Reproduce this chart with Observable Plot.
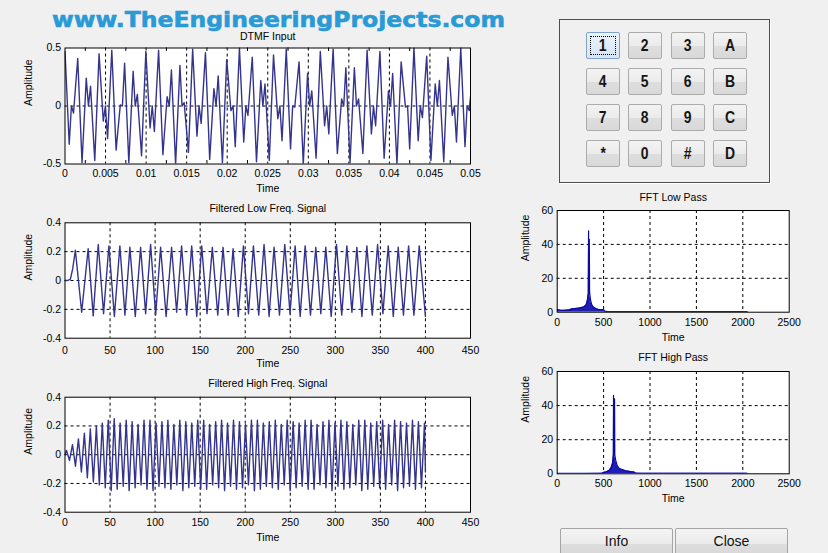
<!DOCTYPE html>
<html>
<head>
<meta charset="utf-8">
<script src="https://cdn.jsdelivr.net/npm/d3@7"></script>
<script src="https://cdn.jsdelivr.net/npm/@observablehq/plot@0.6"></script>
<style>
  html, body { margin: 0; padding: 0; background: #f0f0f0; }
  #fig { position: relative; width: 828px; height: 553px; overflow: hidden; background: #f0f0f0;
         font-family: "Liberation Sans", Arial, sans-serif; }
  .chart { position: absolute; }
  .chart svg { display: block; max-width: none; }
  #wm { position: absolute; left: 0; top: 0; }
  #pad { position: absolute; left: 559px; top: 19px; width: 209px; height: 162px;
         border: 1px solid #4e4e4e; box-shadow: 1px 1px 0 #ffffff; }
  .key { position: absolute; box-sizing: border-box; width: 34px; height: 27px;
         border: 1px solid #acacac; border-radius: 2px;
         background: linear-gradient(#f3f3f3 0%, #ebebeb 50%, #dedede 51%, #d9d9d9 100%);
         display: flex; align-items: center; justify-content: center;
         font: bold 17px "Liberation Sans Narrow", "Liberation Sans", Arial, sans-serif; color: #151515; }
  .key span { display: inline-block; transform: scaleX(0.82); }
  .key.focus { border-color: #7da2ce; background: linear-gradient(#eaf3fb, #d6e6f4); }
  .key.focus::after { content: ""; position: absolute; left: 3px; top: 3px; right: 3px; bottom: 3px;
         border: 1px dotted #000; }
  .btn { position: absolute; box-sizing: border-box; top: 528px; width: 113px; height: 32px;
         border: 1px solid #a5a5a5; border-radius: 2px;
         background: linear-gradient(#f3f3f3 0%, #ebebeb 50%, #dddddd 51%, #d6d6d6 100%);
         font: 14px "Liberation Sans", Arial, sans-serif; color: #111; text-align: center;
         line-height: 16px; padding-top: 4px; }
</style>
</head>
<body>
<div id="fig"></div>
<script>
// ---------------- data ----------------
// DTMF input (key "1"): extrema / null points of the waveform, time in s
const dtmfT = [0,0.00052,0.00079,0.00105,0.00157,0.00210,0.00262,0.00289,0.00315,0.00367,
  0.00420,0.00472,0.00498,0.00525,0.00577,0.00630,0.00682,0.00708,0.00735,0.00787,
  0.00840,0.00866,0.00892,0.00944,0.00997,0.01049,0.01076,0.01102,0.01154,0.01207,
  0.01259,0.01286,0.01312,0.01364,0.01417,0.01443,0.01469,0.01522,0.01574,0.01627,
  0.01653,0.01679,0.01732,0.01784,0.01836,0.01863,0.01889,0.01941,0.01994,0.02046,
  0.02073,0.02099,0.02151,0.02204,0.02230,0.02256,0.02309,0.02361,0.02414,0.02440,
  0.02466,0.02519,0.02571,0.02624,0.02650,0.02676,0.02728,0.02781,0.02807,0.02833,
  0.02886,0.02938,0.02991,0.03017,0.03043,0.03096,0.03148,0.03201,0.03227,0.03253,
  0.03306,0.03358,0.03411,0.03437,0.03463,0.03515,0.03568,0.03594,0.03620,0.03673,
  0.03725,0.03778,0.03804,0.03830,0.03883,0.03935,0.03988,0.04014,0.04040,0.04093,
  0.04145,0.04198,0.04224,0.04250,0.04303,0.04355,0.04381,0.04407,0.04460,0.04512,
  0.04565,0.04591,0.04617,0.04670,0.04722,0.04775,0.04801,0.04827,0.04880,0.04932,
  0.04958,0.04985,0.05000];
const dtmfV = [0.47,-0.33,0,-0.06,0.41,-0.49,0.24,0,0.17,-0.47,
  0.45,-0.13,0,-0.28,0.48,-0.38,0.01,0,0.37,-0.49,
  0.30,0,0.10,-0.43,0.47,-0.19,0,-0.22,0.48,-0.42,
  0.08,0,0.31,-0.50,0.35,0,0.03,-0.40,0.49,-0.26,
  0,-0.15,0.46,-0.46,0.15,0,0.26,-0.49,0.40,-0.04,
  0,-0.35,0.50,-0.31,0,-0.08,0.42,-0.48,0.22,0,
  0.19,-0.47,0.44,-0.11,0,-0.30,0.49,-0.37,0,-0.01,
  0.38,-0.50,0.28,0,0.13,-0.45,0.47,-0.17,0,-0.24,
  0.49,-0.41,0.06,0,0.33,-0.49,0.33,0,0.06,-0.41,
  0.48,-0.24,0,-0.17,0.47,-0.45,0.13,0,0.28,-0.50,
  0.38,-0.01,0,-0.37,0.50,-0.30,0,-0.10,0.43,-0.47,
  0.19,0,0.22,-0.48,0.42,-0.08,0,-0.31,0.50,-0.35,
  0,-0.04,0.08];

// Filtered low-frequency signal (samples)
const lowStartT = [0, 3, 6, 8.5];
const lowStartV = [0, 0, 0.01, 0.08];
const lowPeakT = [11.5,25.7,36.9,48.7,60.9,72.0,83.9,95.0,106.1,118.3,129.4,140.6,151.7,163.5,175.4,186.5,198.0,
  209.1,220.9,232.0,243.9,255.4,266.5,278.3,289.4,301.3,312.8,323.9,335.0,346.9,358.7,369.8,381.3,393.1];
const lowPeakV = [0.21,0.22,0.25,0.24,0.24,0.23,0.23,0.25,0.23,0.23,0.24,0.24,0.24,0.23,0.23,0.22,0.24,
  0.24,0.25,0.23,0.25,0.24,0.24,0.23,0.23,0.25,0.24,0.23,0.24,0.25,0.24,0.23,0.24,0.24];
const lowTroughT = [18.5,31.3,42.8,54.8,66.5,78.0,89.5,100.6,112.2,123.9,135.0,146.2,157.6,169.5,181.0,192.3,203.6,
  215.0,226.5,238.0,249.7,261.0,272.4,283.9,295.4,307.1,318.4,329.5,341.0,352.8,364.3,375.6,387.2,400];
const lowTroughV = [-0.22,-0.245,-0.23,-0.25,-0.24,-0.25,-0.23,-0.24,-0.25,-0.22,-0.24,-0.25,-0.23,-0.24,-0.24,-0.25,-0.23,
  -0.24,-0.25,-0.24,-0.23,-0.25,-0.24,-0.23,-0.25,-0.24,-0.22,-0.25,-0.24,-0.23,-0.25,-0.24,-0.24,-0.25];

// Filtered high-frequency signal (samples)
const hiEndsT = [0, 400];
const hiEndsV = [0, -0.12];
const hiPeakT = [1.7,8.3,14.9,21.5,28.1,34.8,41.4,48.0,54.6,61.2,67.9,74.5,81.1,87.7,94.3,101.0,107.6,114.2,120.8,127.4,
  134.1,140.7,147.3,153.9,160.5,167.2,173.8,180.4,187.0,193.6,200.3,206.9,213.5,220.1,226.7,233.4,240.0,246.6,253.2,
  259.8,266.5,273.1,279.7,286.3,292.9,299.6,306.2,312.8,319.4,326.0,332.7,339.3,345.9,352.5,359.1,365.8,372.4,379.0,
  385.6,392.2,398.9];
const hiPeakV = [0.03,0.07,0.11,0.15,0.18,0.20,0.22,0.24,0.25,0.22,0.24,
  0.23,0.21,0.24,0.24,0.22,0.23,0.24,0.21,0.24,0.23,0.22,
  0.24,0.24,0.21,0.23,0.24,0.22,0.24,0.23,0.21,0.24,0.24,
  0.22,0.23,0.24,0.21,0.24,0.23,0.22,0.24,0.24,0.21,0.23,
  0.24,0.22,0.24,0.23,0.21,0.24,0.24,0.22,0.23,0.24,0.21,
  0.24,0.23,0.22,0.24,0.23,0.22];
const hiTroughT = [5.0,11.6,18.2,24.8,31.5,38.1,44.7,51.3,57.9,64.6,71.2,77.8,84.4,91.0,97.7,104.3,110.9,117.5,124.1,130.8,
  137.4,144.0,150.6,157.2,163.9,170.5,177.1,183.7,190.3,197.0,203.6,210.2,216.8,223.4,230.1,236.7,243.3,249.9,256.5,263.2,
  269.8,276.4,283.0,289.6,296.3,302.9,309.5,316.1,322.7,329.4,336.0,342.6,349.2,355.8,362.5,369.1,375.7,382.3,388.9,395.6];
const hiTroughV = [-0.04,-0.08,-0.12,-0.16,-0.19,-0.21,-0.23,-0.25,-0.24,-0.22,
  -0.25,-0.23,-0.21,-0.24,-0.25,-0.22,-0.23,-0.24,-0.21,-0.25,
  -0.23,-0.22,-0.24,-0.24,-0.21,-0.23,-0.25,-0.22,-0.24,-0.23,
  -0.21,-0.25,-0.24,-0.22,-0.23,-0.24,-0.21,-0.25,-0.23,-0.22,
  -0.24,-0.24,-0.21,-0.23,-0.25,-0.22,-0.24,-0.23,-0.21,-0.25,
  -0.24,-0.22,-0.23,-0.24,-0.21,-0.25,-0.23,-0.22,-0.24,-0.23];

// FFT magnitude envelopes (bin index)
const fftLowBin = [0,30,80,130,160,200,250,290,310,322,330,335,338,340,343,346,349,353,360,372,390,420,460,500,510,540,700,1000,1500,2000,2048];
const fftLowMag = [1.5,1.2,1.1,1.4,2.0,2.2,2.6,3.2,4.2,6,9,11,48,13,11,43,12,10,7,4.5,3,2,1.4,1.6,0.6,0.45,0.4,0.35,0.35,0.35,0.3];
const fftHighBin = [0,300,480,500,530,560,580,595,603,605,607,610,615,618,621,630,645,670,700,740,790,830,845,900,1500,2048];
const fftHighMag = [0.2,0.2,0.3,0.8,1.2,2.0,3.5,6,10,11,46,12,11,44,11,8,5,3,2.5,1.8,1.3,1.0,0.4,0.3,0.3,0.3];

// ticks
const dtmfXTicks = [0,0.005,0.01,0.015,0.02,0.025,0.03,0.035,0.04,0.045,0.05];
const dtmfMinor = [0.0025,0.0075,0.0125,0.0175,0.0225,0.0275,0.0325,0.0375,0.0425,0.0475];
const dtmfYTicks = [-0.5,0,0.5];
const sigXTicks = [0,50,100,150,200,250,300,350,400,450];
const sigYTicks = [-0.4,-0.2,0,0.2,0.4];
const fftXTicks = [0,500,1000,1500,2000,2500];
const fftYTicks = [0,20,40,60];

const keyLabels = [["1","2","3","A"],["4","5","6","B"],["7","8","9","C"],["*","0","#","D"]];
const watermark = "www.TheEngineeringProjects.com";

// ---------------- build ----------------
const zip = (ts, vs) => ts.map((t, i) => ({t, v: vs[i]}));
const byT = (a, b) => a.t - b.t;
const dtmfRows = zip(dtmfT, dtmfV);
const lowRows = [...zip(lowStartT, lowStartV), ...zip(lowPeakT, lowPeakV), ...zip(lowTroughT, lowTroughV)].sort(byT);
const hiRows = [...zip(hiEndsT, hiEndsV), ...zip(hiPeakT, hiPeakV), ...zip(hiTroughT, hiTroughV)].sort(byT);
const fftLowRows = zip(fftLowBin, fftLowMag);
const fftHighRows = zip(fftHighBin, fftHighMag);

const fig = document.getElementById("fig");
const LINE = "#34348e";
const FONT = '"Liberation Sans", Arial, sans-serif';

function chart(o) {
  const [bl, bt, br, bb] = o.box, [x0, y0, x1, y1] = o.area;
  const [xmin, xmax] = o.xDomain, [ymin, ymax] = o.yDomain;
  const xGrid = o.xTicks.filter(d => d > xmin && d < xmax);
  const yGrid = o.yTicks.filter(d => d > ymin && d < ymax);
  const svg = Plot.plot({
    width: br - bl, height: bb - bt,
    marginLeft: x0 - bl, marginRight: br - x1, marginTop: y0 - bt, marginBottom: bb - y1,
    style: {background: "transparent", fontFamily: FONT, fontSize: "10.5px", color: "#000", overflow: "visible"},
    x: {domain: o.xDomain}, y: {domain: o.yDomain},
    marks: [
      Plot.frame({fill: "white", stroke: "none"}),
      Plot.ruleX(xGrid, {stroke: "#000", strokeDasharray: "3,3", strokeWidth: 1}),
      Plot.ruleY(yGrid, {stroke: "#000", strokeDasharray: "3,3", strokeWidth: 1}),
      ...o.marks,
      Plot.frame({stroke: "#000", strokeWidth: 1}),
      Plot.axisX({ticks: o.xTicks, tickFormat: String, tickSize: 0, tickPadding: o.xPad, label: null}),
      Plot.axisY({ticks: o.yTicks, tickFormat: String, tickSize: 0, tickPadding: 4, label: null}),
      Plot.text([o.title], {text: d => d, frameAnchor: "top", dy: -o.titleOff, lineAnchor: "middle"}),
      Plot.text(["Time"], {text: d => d, frameAnchor: "bottom", dy: o.timeOff, lineAnchor: "middle"}),
      Plot.text(["Amplitude"], {text: d => d, frameAnchor: "left", dx: -o.ampOff, rotate: -90, lineAnchor: "middle"})
    ]
  });
  const div = document.createElement("div");
  div.className = "chart";
  div.style.left = bl + "px"; div.style.top = bt + "px";
  div.style.width = (br - bl) + "px"; div.style.height = (bb - bt) + "px";
  div.append(svg);
  fig.append(div);
}

const sigLine = rows => Plot.line(rows, {x: "t", y: "v", stroke: LINE, strokeWidth: 1.4, clip: true});
const fftMarks = rows => [
  Plot.areaY(rows, {x: "t", y: "v", fill: "#1e1eb4", clip: true}),
  Plot.line(rows, {x: "t", y: "v", stroke: "#0a0aa0", strokeWidth: 1.2, clip: true})
];

chart({box: [0, 24, 480, 200], area: [64.5, 47.5, 470, 163.5], xDomain: [0, 0.05], yDomain: [-0.5, 0.5],
  xTicks: dtmfXTicks, yTicks: dtmfYTicks, xPad: 6, title: "DTMF Input", titleOff: 11.5, timeOff: 25, ampOff: 36,
  marks: [sigLine(dtmfRows),
    Plot.ruleX(dtmfMinor, {y1: -0.5, y2: -0.47, stroke: "#000"}),
    Plot.ruleX(dtmfMinor, {y1: 0.47, y2: 0.5, stroke: "#000"})]});

chart({box: [0, 195, 480, 372], area: [64.5, 222.3, 470, 337.7], xDomain: [0, 450], yDomain: [-0.4, 0.4],
  xTicks: sigXTicks, yTicks: sigYTicks, xPad: 8, title: "Filtered Low Freq. Signal", titleOff: 14, timeOff: 25.5, ampOff: 36,
  marks: [sigLine(lowRows)]});

chart({box: [0, 370, 480, 548], area: [64.5, 396.7, 470, 511.7], xDomain: [0, 450], yDomain: [-0.4, 0.4],
  xTicks: sigXTicks, yTicks: sigYTicks, xPad: 6, title: "Filtered High Freq. Signal", titleOff: 13.7, timeOff: 25, ampOff: 36,
  marks: [sigLine(hiRows)]});

chart({box: [500, 185, 800, 345], area: [556.7, 210, 788.7, 311.7], xDomain: [0, 2500], yDomain: [0, 60],
  xTicks: fftXTicks, yTicks: fftYTicks, xPad: 6, title: "FFT Low Pass", titleOff: 13.3, timeOff: 25, ampOff: 31.7,
  marks: fftMarks(fftLowRows)});

chart({box: [500, 345, 800, 505], area: [556.7, 371, 788.7, 473.3], xDomain: [0, 2500], yDomain: [0, 60],
  xTicks: fftXTicks, yTicks: fftYTicks, xPad: 6, title: "FFT High Pass", titleOff: 13.7, timeOff: 25, ampOff: 31.7,
  marks: fftMarks(fftHighRows)});

// watermark
const NS = "http://www.w3.org/2000/svg";
const wm = document.createElementNS(NS, "svg");
wm.setAttribute("id", "wm"); wm.setAttribute("width", 828); wm.setAttribute("height", 36);
const wt = document.createElementNS(NS, "text");
wt.setAttribute("x", 52); wt.setAttribute("y", 26.5);
wt.setAttribute("textLength", 453); wt.setAttribute("lengthAdjust", "spacingAndGlyphs");
wt.setAttribute("font-family", '"DejaVu Sans", Verdana, sans-serif');
wt.setAttribute("font-weight", "bold"); wt.setAttribute("font-size", 22);
wt.setAttribute("fill", "#2a9ad6"); wt.setAttribute("stroke", "#2a9ad6"); wt.setAttribute("stroke-width", 0.6);
wt.textContent = watermark;
wm.append(wt);
fig.append(wm);

// keypad
const pad = document.createElement("div");
pad.id = "pad";
fig.append(pad);
const keyLeft = [26, 68, 111, 153], keyTop = [12, 48, 84, 120];
keyLabels.forEach((row, r) => row.forEach((k, c) => {
  const b = document.createElement("div");
  b.className = "key" + (r === 0 && c === 0 ? " focus" : "");
  b.style.left = keyLeft[c] + "px"; b.style.top = keyTop[r] + "px";
  const s = document.createElement("span");
  s.textContent = k;
  b.append(s);
  pad.append(b);
}));

// buttons
[["Info", 560], ["Close", 675]].forEach(([label, left]) => {
  const b = document.createElement("div");
  b.className = "btn"; b.style.left = left + "px"; b.textContent = label;
  fig.append(b);
});
</script>
</body>
</html>
